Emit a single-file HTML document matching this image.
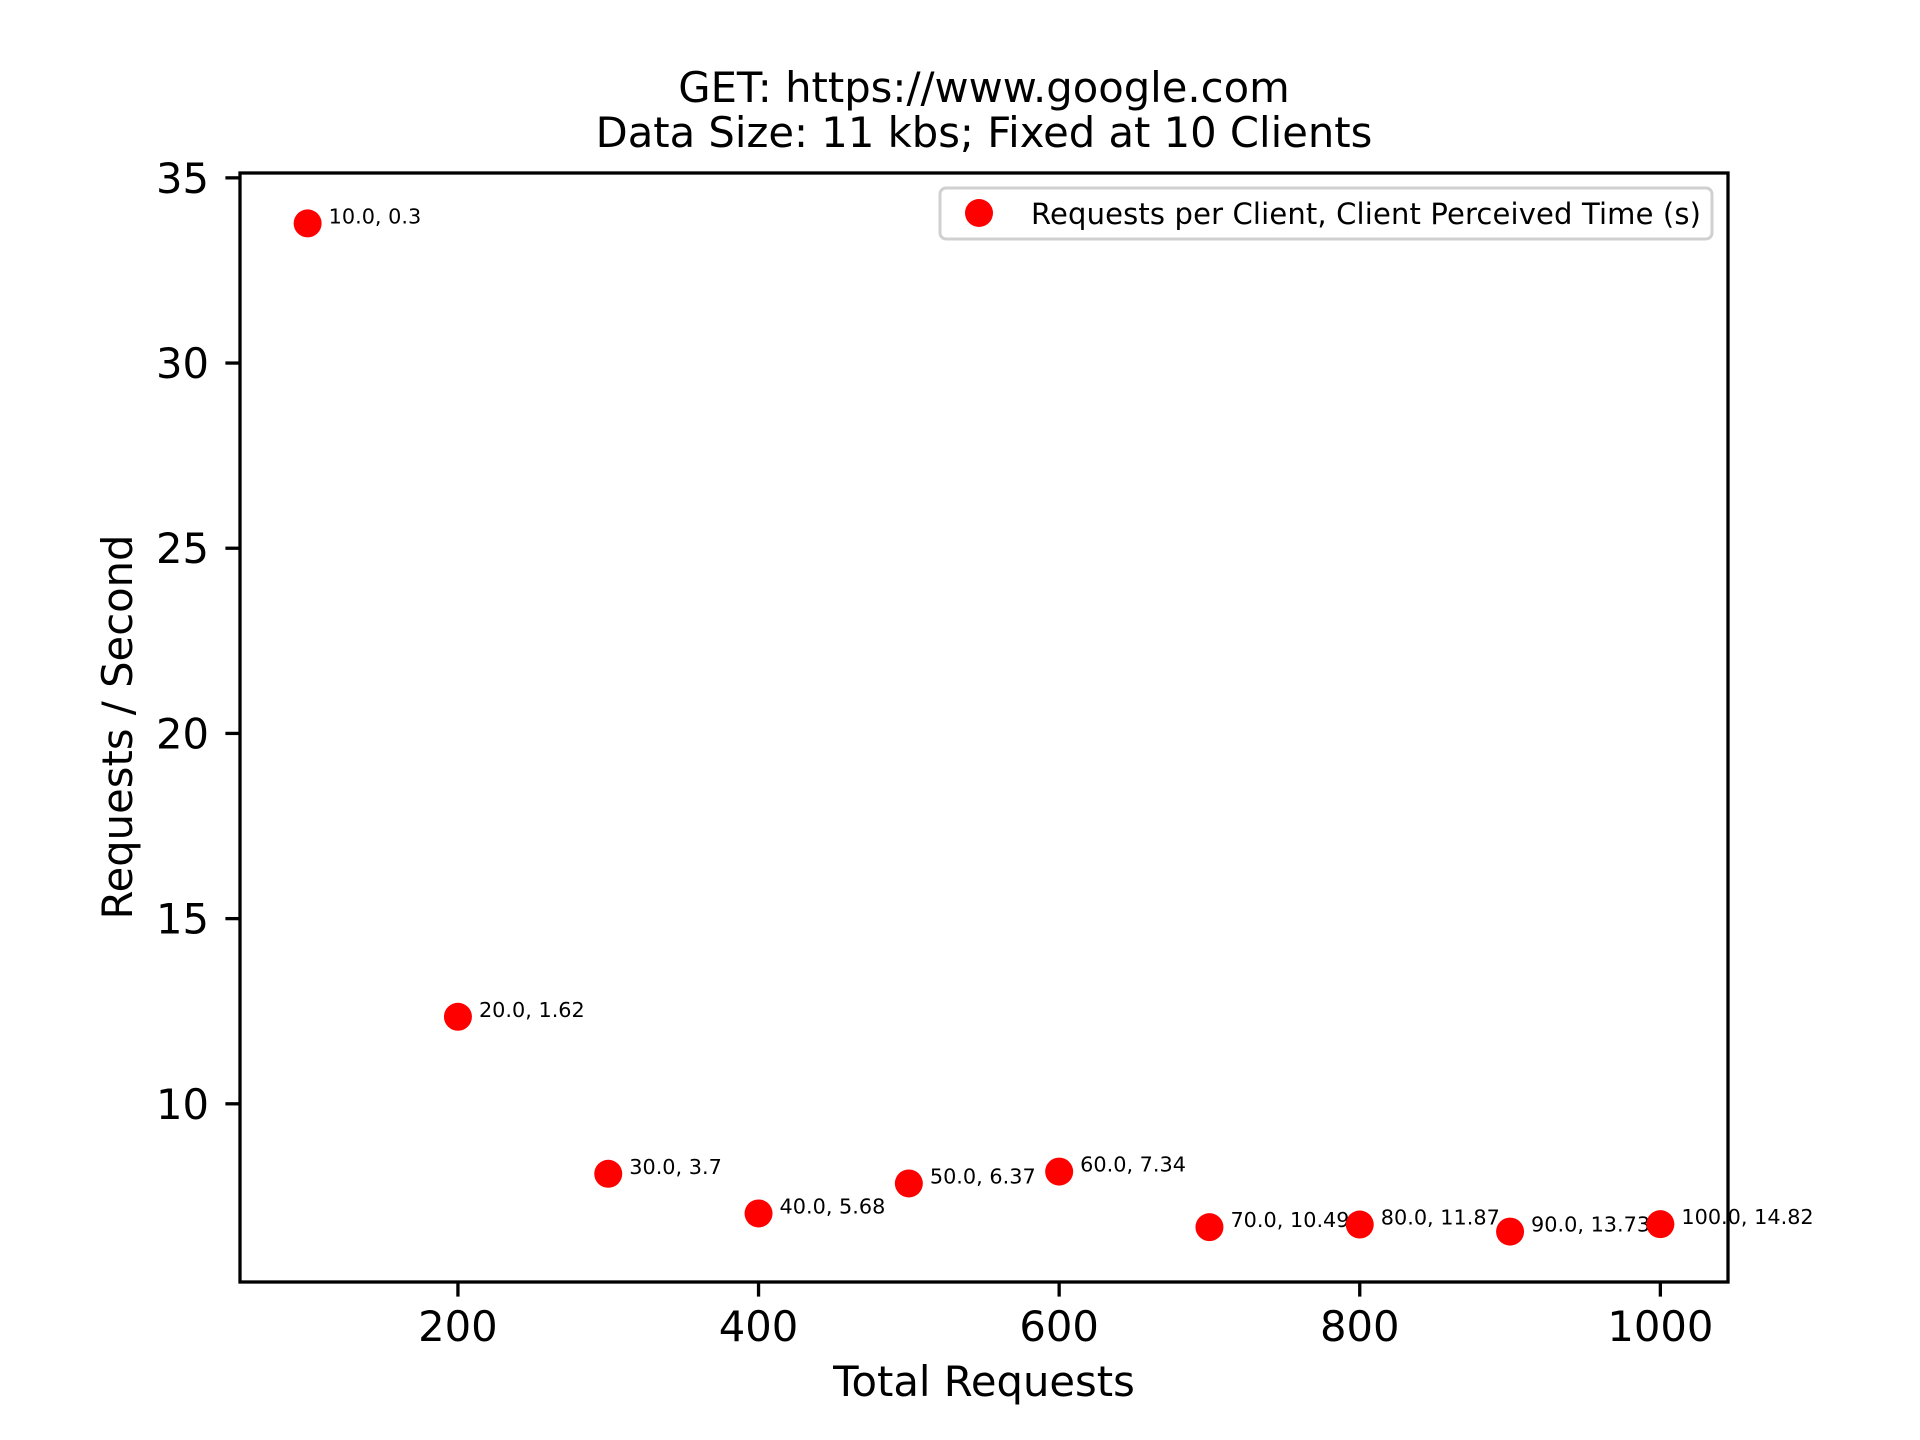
<!DOCTYPE html>
<html><head><meta charset="utf-8"><style>
html,body{margin:0;padding:0;background:#fff;}
svg{display:block;font-family:"DejaVu Sans","Liberation Sans",sans-serif;}
</style></head><body>
<svg id="chart" width="1920" height="1440" viewBox="0 0 1920 1440">
<rect x="0" y="0" width="1920" height="1440" fill="#fff"/>
<text x="984" y="102" font-size="41.7" text-anchor="middle">GET: https://www.google.com</text>
<text x="984" y="147" font-size="41.7" text-anchor="middle">Data Size: 11 kbs; Fixed at 10 Clients</text>
<g id="marks"></g>
<g id="axes"></g>
<text x="984" y="1396" font-size="41.7" text-anchor="middle">Total Requests</text>
<text transform="translate(132,727) rotate(-90)" font-size="41.7" text-anchor="middle">Requests / Second</text>
<g>
<rect x="940" y="188" width="772" height="51" rx="6" fill="#fff" fill-opacity="0.8" stroke="#d0d0d0" stroke-width="3"/>
<circle cx="979" cy="213" r="14" fill="#ff0000"/>
<text x="1031" y="224" font-size="29" textLength="670">Requests per Client, Client Perceived Time (s)</text>
</g>
</svg>
<script>
const totalRequests = [100,200,300,400,500,600,700,800,900,1000];
const reqPerSecond = [33.77,12.35,8.11,7.04,7.85,8.17,6.67,6.74,6.55,6.75];
const annotations = ["10.0, 0.3","20.0, 1.62","30.0, 3.7","40.0, 5.68","50.0, 6.37","60.0, 7.34","70.0, 10.49","80.0, 11.87","90.0, 13.73","100.0, 14.82"];
const xTicks = [200,400,600,800,1000];
const yTicks = [10,15,20,25,30,35];

const NS="http://www.w3.org/2000/svg";
const L=240,R=1728,T=173,B=1282;
const xr=Math.max(...totalRequests)-Math.min(...totalRequests);
const xmin=Math.min(...totalRequests)-0.05*xr, xmax=Math.max(...totalRequests)+0.05*xr;
const yr=Math.max(...reqPerSecond)-Math.min(...reqPerSecond);
const ymin=Math.min(...reqPerSecond)-0.05*yr, ymax=Math.max(...reqPerSecond)+0.05*yr;
function sx(v){return L+(v-xmin)/(xmax-xmin)*(R-L);}
function sy(v){return B-(v-ymin)/(ymax-ymin)*(B-T);}
function mk(tag,attrs,parent){const e=document.createElementNS(NS,tag);for(const k in attrs)e.setAttribute(k,attrs[k]);parent.appendChild(e);return e;}
const marks=document.getElementById('marks');
totalRequests.forEach((x,i)=>{
  const c=mk('circle',{cx:sx(x),cy:sy(reqPerSecond[i]),r:14,fill:'#ff0000'},marks);
  
  
  const t=mk('text',{x:sx(x)+21,y:sy(reqPerSecond[i]),'font-size':20.8},marks);
  t.textContent=annotations[i];
  
  
});
const axes=document.getElementById('axes');
const frame=mk('rect',{x:L,y:T,width:R-L,height:B-T,fill:'none',stroke:'#000','stroke-width':3.3},axes);


xTicks.forEach(v=>{
  const x=sx(v);
  const tk=mk('line',{x1:x,x2:x,y1:B,y2:B+14.6,stroke:'#000','stroke-width':3.3},axes);
  
  
  const t=mk('text',{x:x,y:1341,'font-size':41.7,'text-anchor':'middle'},axes);
  t.textContent=v;
  
  
});
yTicks.forEach(v=>{
  const y=sy(v);
  const tk=mk('line',{x1:L-14.6,x2:L,y1:y,y2:y,stroke:'#000','stroke-width':3.3},axes);
  
  
  const t=mk('text',{x:209,y:y+15,'font-size':41.7,'text-anchor':'end'},axes);
  t.textContent=v;
  
  
});
</script>
</body></html>
